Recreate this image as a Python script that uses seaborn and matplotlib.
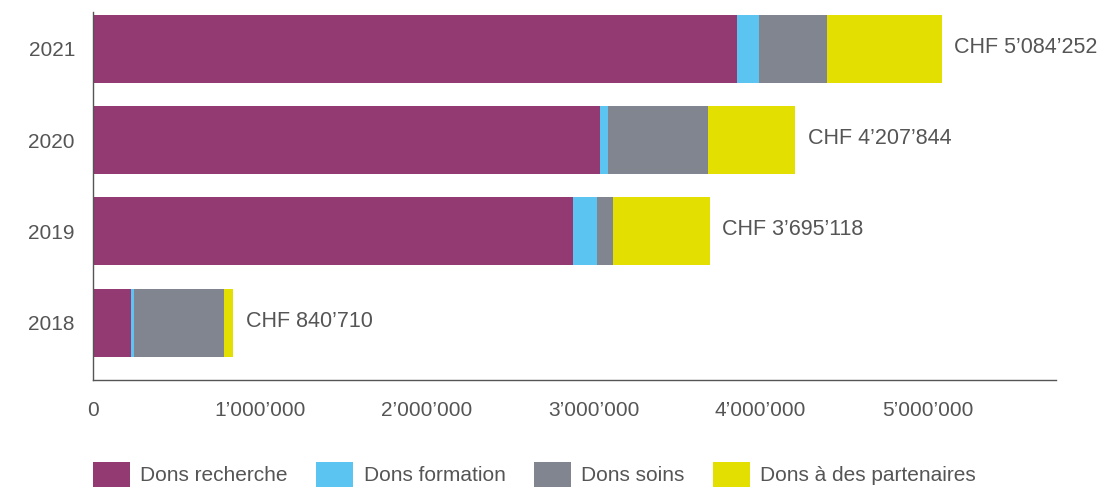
import numpy as np
import pandas as pd
import matplotlib
matplotlib.use('Agg')
import matplotlib.pyplot as plt
from matplotlib.patches import Patch
from matplotlib.ticker import FuncFormatter, MultipleLocator
import seaborn as sns

# values (CHF)
years = ['2021', '2020', '2019', '2018']
recherche = [3860000, 3037000, 2875000, 226000]
formation = [128000, 46000, 146000, 22000]
soins = [408000, 604000, 97000, 534000]
totals = [5084252, 4207844, 3695118, 840710]
partenaires = [t - r - f - s for t, r, f, s in zip(totals, recherche, formation, soins)]

series_names = ['Dons recherche', 'Dons formation', 'Dons soins', 'Dons à des partenaires']
colors = ['#933a72', '#5bc4f1', '#81858f', '#e3df00']

sns.set_style('white')
plt.rcParams['font.family'] = ['Liberation Sans', 'DejaVu Sans']
text_col = '#555555'

df = pd.DataFrame({'year': years, 'recherche': recherche, 'formation': formation,
                   'soins': soins, 'partenaires': partenaires})
cum = df[['recherche', 'formation', 'soins', 'partenaires']].cumsum(axis=1)

fig = plt.figure(figsize=(11, 4.87), dpi=100)
ax = fig.add_axes([93 / 1100, 107 / 487, (1056 - 93) / 1100, 368 / 487])

# stacked bars: draw cumulative sums from longest to shortest
for col, c in zip(['partenaires', 'soins', 'formation', 'recherche'], colors[::-1]):
    sns.barplot(x=cum[col], y=df['year'], order=years, orient='h', color=c,
                saturation=1, width=0.745, linewidth=0, ax=ax)

for i, t in enumerate(totals):
    lbl = 'CHF ' + f'{t:,}'.replace(',', '\u2019')
    ax.annotate(lbl, xy=(t, i), xytext=(9, 1), textcoords='offset points',
                va='center', ha='left', fontsize=15.5, color=text_col)

ax.set_xlim(0, 5770000)
ax.set_ylim(3.63, -0.405)
ax.xaxis.set_major_locator(MultipleLocator(1000000))
ax.xaxis.set_major_formatter(FuncFormatter(lambda v, p: f'{int(v):,}'.replace(',', '\u2019')))
ax.set_xlabel('')
ax.set_ylabel('')
ax.tick_params(axis='x', direction='in', length=7, width=1, color=text_col,
               labelsize=15, labelcolor=text_col, pad=15)
ax.tick_params(axis='y', length=0, labelsize=15, labelcolor=text_col, pad=13)
sns.despine(ax=ax, top=True, right=True)
for s in ['left', 'bottom']:
    ax.spines[s].set_color(text_col)
    ax.spines[s].set_linewidth(1)

handles = [Patch(facecolor=c, edgecolor='none', label=n) for c, n in zip(colors, series_names)]
fig.legend(handles=handles, loc='upper left', bbox_to_anchor=(93 / 1100, 0.052),
           ncol=4, frameon=False, fontsize=15, labelcolor=text_col,
           handlelength=1.78, handleheight=1.5, handletextpad=0.5,
           columnspacing=1.35, borderpad=0, borderaxespad=0)

fig.savefig('out.png', dpi=100)
